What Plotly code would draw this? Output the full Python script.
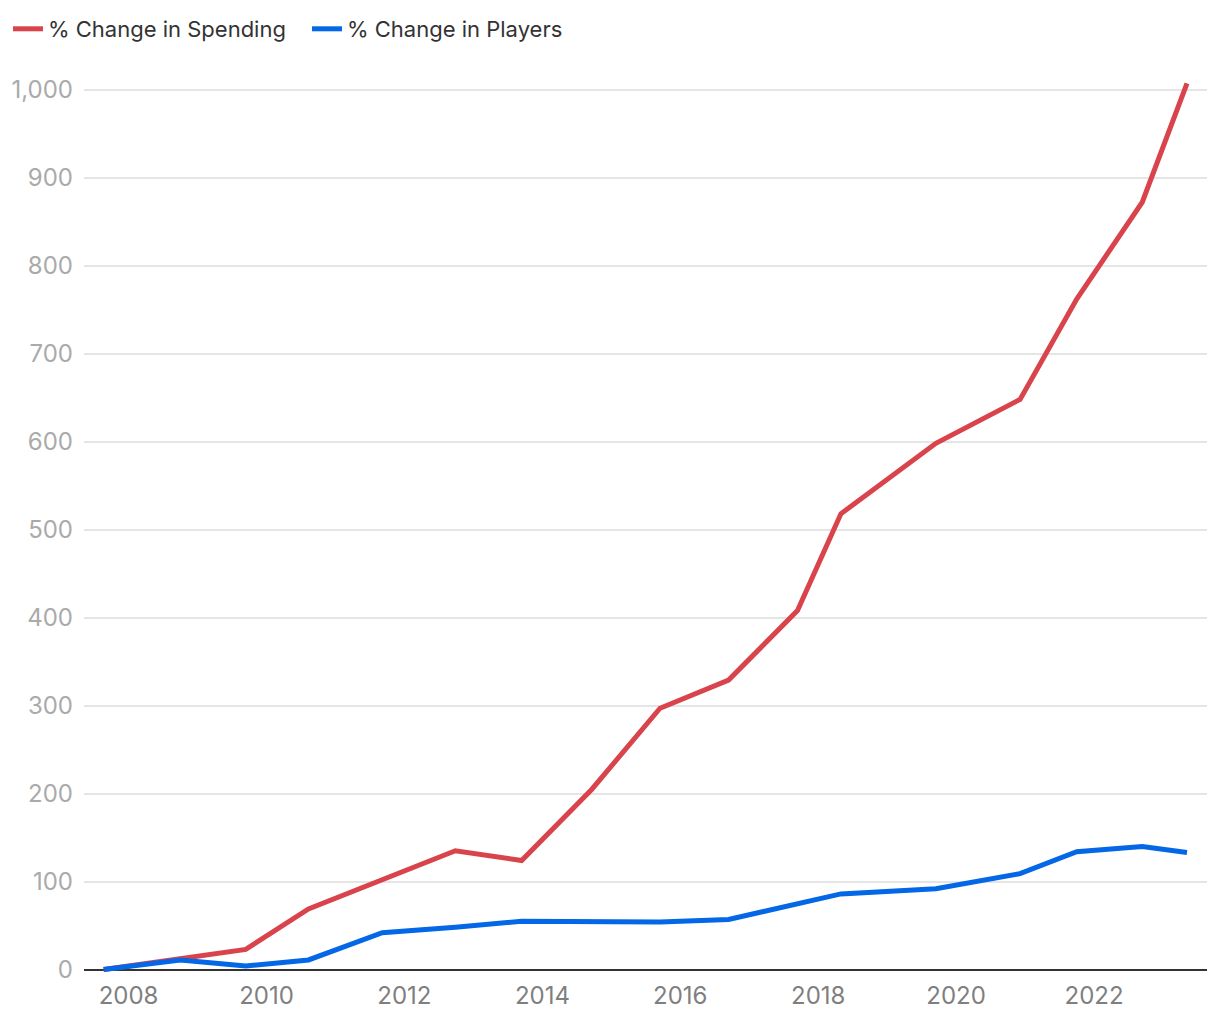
import plotly.graph_objects as go

# ── Data ────────────────────────────────────────────────────────────────────
DATES = [
    "2007-08-22", "2008-10-01", "2009-09-13", "2010-08-11", "2011-09-06",
    "2012-09-27", "2013-09-13", "2014-09-20", "2015-09-16", "2016-09-13",
    "2017-09-13", "2018-05-01", "2019-09-16", "2020-12-05", "2021-10-01",
    "2022-09-13", "2023-05-08",
]
SPENDING = [0, 13, 23, 69, 102, 135, 124, 205, 297, 329, 408, 518, 598, 648, 762, 872, 1007]
PLAYERS = [0, 11, 4, 11, 42, 48, 55, 54, 54, 57, 75, 86, 92, 109, 134, 140, 133]

SERIES_NAMES = ["% Change in Spending", "% Change in Players"]

# ── Style ───────────────────────────────────────────────────────────────────
RED = "#d9434b"
BLUE = "#0367e6"
INK = "#333333"
GRID = "#e5e5e5"
FONT = "Inter, Liberation Sans, sans-serif"

fig = go.Figure()
for name, values, color in [
    (SERIES_NAMES[0], SPENDING, RED),
    (SERIES_NAMES[1], PLAYERS, BLUE),
]:
    fig.add_trace(go.Scatter(
        x=DATES,
        y=values,
        mode="lines",
        name=name,
        line=dict(color=color, width=5),
    ))

# page body has an 8px margin, so everything is laid out 8px up/left
fig.update_layout(
    width=1220,
    height=1020,
    margin=dict(l=76, r=21, t=64, b=54),
    paper_bgcolor="white",
    plot_bgcolor="white",
    font=dict(family=FONT, size=22, color=INK),
    showlegend=True,
    legend=dict(
        orientation="h",
        xref="container", yref="container",
        x=-0.004, xanchor="left",
        y=1.0, yanchor="top",
        font=dict(size=22, color=INK),
        bgcolor="rgba(0,0,0,0)",
        itemwidth=30,
        entrywidth=254,
        traceorder="normal",
    ),
    xaxis=dict(
        type="date",
        range=["2007-05-10", "2023-08-22"],
        tick0="2008-01-01",
        dtick="M24",
        tickformat="%Y",
        showgrid=False,
        showline=False,
        zeroline=False,
        ticks="",
        automargin=False,
        ticklabelstandoff=5,
        tickfont=dict(size=24, color="#7f7f7f"),
    ),
    yaxis=dict(
        range=[-5, 1020],
        tickvals=[0, 100, 200, 300, 400, 500, 600, 700, 800, 900, 1000],
        tickformat=",d",
        showgrid=True,
        gridcolor=GRID,
        gridwidth=1.5,
        zeroline=True,
        zerolinecolor=INK,
        zerolinewidth=2,
        showline=False,
        ticks="",
        automargin=False,
        ticklabelstandoff=10,
        tickfont=dict(size=24, color="#aaaaaa"),
    ),
)

fig.write_html("out.html")
